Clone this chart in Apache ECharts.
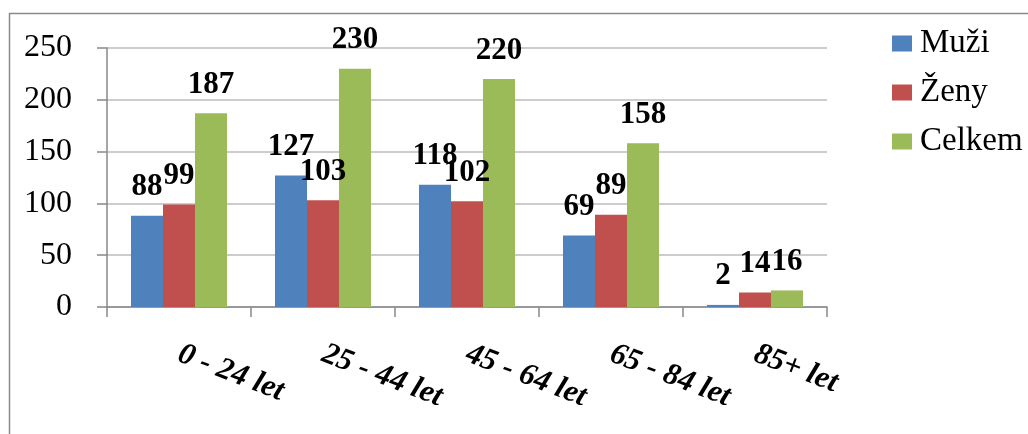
<!DOCTYPE html>
<html>
<head>
<meta charset="utf-8">
<script src="https://cdn.jsdelivr.net/npm/echarts@6/dist/echarts.min.js"></script>
<style>
html,body{margin:0;padding:0;background:#fff;}
#chart{width:1028px;height:434px;}
</style>
</head>
<body>
<div id="chart"></div>
<script>
const categories = ['0 - 24 let', '25 - 44 let', '45 - 64 let', '65 - 84 let', '85+ let'];
const seriesNames = ['Muži', 'Ženy', 'Celkem'];
const muzi = [88, 127, 118, 69, 2];
const zeny = [99, 103, 102, 89, 14];
const celkem = [187, 230, 220, 158, 16];
const yTicks = { min: 0, max: 250, interval: 50 };

const FONT = '"Liberation Serif", "Times New Roman", serif';
const colors = ['#4F81BD', '#C0504D', '#9BBB59'];
const values = [muzi, zeny, celkem];

const chart = echarts.init(document.getElementById('chart'), null, { renderer: 'canvas' });
chart.setOption({
  animation: false,
  backgroundColor: '#fff',
  color: colors,
  graphic: [{
    type: 'rect', silent: true, z: -10,
    shape: { x: 9.5, y: 13.5, width: 1100, height: 500 },
    style: { fill: 'none', stroke: '#8a8a8a', lineWidth: 1.5 }
  }],
  grid: { left: 107, right: 201, top: 48, bottom: 127, containLabel: false },
  legend: {
    orient: 'vertical', left: 892, top: 27, padding: 0,
    itemWidth: 20, itemHeight: 16, itemGap: 16,
    icon: 'rect',
    textStyle: { fontFamily: FONT, fontSize: 33, color: '#000', padding: [0, 0, 0, 3] },
    data: seriesNames
  },
  xAxis: {
    type: 'category',
    data: categories,
    axisLine: { lineStyle: { color: '#888', width: 1.5 } },
    axisTick: { show: true, length: 10, lineStyle: { color: '#888', width: 1.5 } },
    axisLabel: {
      rotate: -21, margin: 46, interval: 0,
      fontFamily: FONT, fontSize: 31, fontWeight: 'bold', fontStyle: 'italic', color: '#000'
    }
  },
  yAxis: {
    type: 'value', min: yTicks.min, max: yTicks.max, interval: yTicks.interval,
    axisLine: { show: true, lineStyle: { color: '#888', width: 1.5 } },
    axisTick: { show: true, length: 10, inside: false, lineStyle: { color: '#888', width: 1.5 } },
    splitLine: { lineStyle: { color: '#bdbdbd', width: 1.5 } },
    axisLabel: { margin: 35, fontFamily: FONT, fontSize: 32, color: '#000' }
  },
  series: seriesNames.map((name, i) => ({
    name: name,
    type: 'bar',
    data: values[i],
    barWidth: 32,
    barGap: '0%',
    itemStyle: { color: colors[i] },
    label: {
      show: true, position: 'top', distance: 13,
      fontFamily: FONT, fontSize: 31, fontWeight: 'bold', color: '#000'
    }
  }))
});
</script>
</body>
</html>
